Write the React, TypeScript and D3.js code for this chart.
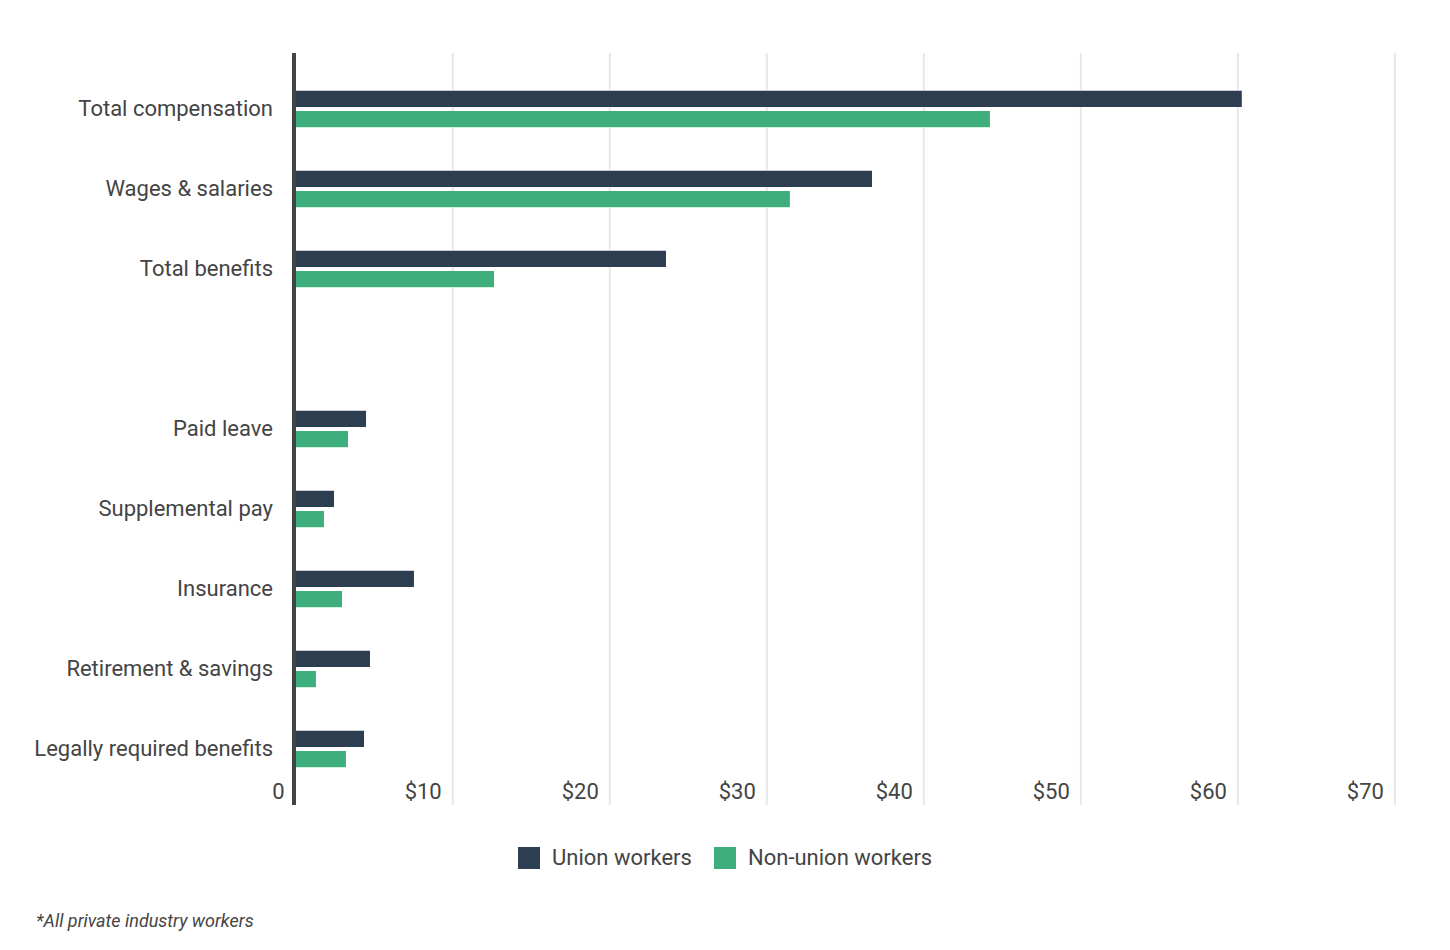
import React from "react";
import * as d3 from "d3";

const categories: string[] = [
  "Total compensation",
  "Wages & salaries",
  "Total benefits",
  "",
  "Paid leave",
  "Supplemental pay",
  "Insurance",
  "Retirement & savings",
  "Legally required benefits",
];
const categoryKeys: string[] = categories.map((c, i) => (c === "" ? `__blank${i}` : c));

const seriesNames: string[] = ["Union workers", "Non-union workers"];
const unionValues: (number | null)[] = [60.25, 36.7, 23.58, null, 4.48, 2.44, 7.53, 4.73, 4.35];
const nonUnionValues: (number | null)[] = [44.21, 31.47, 12.63, null, 3.33, 1.8, 2.95, 1.29, 3.2];
const seriesColors: string[] = ["#2c3e50", "#3eaf7c"];
const tickValues: number[] = [0, 10, 20, 30, 40, 50, 60, 70];
const tickLabels: string[] = ["0", "$10", "$20", "$30", "$40", "$50", "$60", "$70"];
const footnote = "*All private industry workers";

const W = 1450;
const H = 950;
const FONT = "Roboto, 'Noto Sans', sans-serif";
const TEXT = "#444444";

export default function App() {
  const x = d3.scaleLinear().domain([0, 70]).range([295.7, 1394.9]);
  const y = d3.scaleBand<string>().domain(categoryKeys).range([69, 789]).padding(0);
  const inner = d3.scaleBand<string>().domain(seriesNames).range([0, 36]).paddingInner(0.2);
  const barOffset = (y.bandwidth() - 36) / 2;
  const seriesValues = [unionValues, nonUnionValues];

  const plotTop = 53;
  const plotBottom = 805;

  return (
    <svg
      width={W}
      height={H}
      style={{ position: "absolute", left: 0, top: 0, background: "#fff" }}
      fontFamily={FONT}
    >
      {/* gridlines */}
      {tickValues
        .filter((t) => t > 0)
        .map((t) => (
          <line
            key={`g${t}`}
            x1={x(t)}
            x2={x(t)}
            y1={plotTop}
            y2={plotBottom}
            stroke="#e8e8e8"
            strokeWidth={2}
          />
        ))}

      {/* bars */}
      {categoryKeys.map((k, ci) =>
        seriesNames.map((s, si) => {
          const v = seriesValues[si][ci];
          if (v == null) return null;
          const by = (y(k) as number) + barOffset + (inner(s) as number);
          const bh = inner.bandwidth();
          const x0 = x(0) + 0.3;
          const w = x(v) - x0;
          return (
            <g key={`${k}-${s}`}>
              {si === 0 ? (
                <rect x={x0} y={by - 1} width={w} height={1} fill="#c9cdd3" />
              ) : (
                <rect x={x0} y={by + bh} width={w} height={1} fill="#d4efe2" />
              )}
              <rect x={x0} y={by} width={w} height={bh} fill={seriesColors[si]} />
            </g>
          );
        })
      )}

      {/* axis line */}
      <line x1={294} x2={294} y1={plotTop} y2={plotBottom} stroke="#444444" strokeWidth={4} />

      {/* category labels */}
      {categoryKeys.map((k, ci) =>
        categories[ci] ? (
          <text
            key={`l${k}`}
            x={273}
            y={(y(k) as number) + y.bandwidth() / 2 - 1}
            dy="0.35em"
            textAnchor="end"
            fontSize={22}
            fill={TEXT}
          >
            {categories[ci]}
          </text>
        ) : null
      )}

      {/* tick labels */}
      {tickValues.map((t, i) => (
        <text
          key={`t${t}`}
          x={x(t) - 11}
          y={799}
          textAnchor="end"
          fontSize={22}
          fill={TEXT}
        >
          {tickLabels[i]}
        </text>
      ))}

      {/* legend */}
      {(() => {
        const items = [
          { name: seriesNames[0], color: seriesColors[0], x: 518 },
          { name: seriesNames[1], color: seriesColors[1], x: 714 },
        ];
        return items.map((it) => (
          <g key={it.name}>
            <rect x={it.x} y={847} width={22} height={22} fill={it.color} />
            <text x={it.x + 34} y={864.5} fontSize={22} fill={TEXT}>
              {it.name}
            </text>
          </g>
        ));
      })()}

      {/* footnote */}
      <text x={36} y={927} fontSize={18} fontStyle="italic" fill={TEXT}>
        {footnote}
      </text>
    </svg>
  );
}
